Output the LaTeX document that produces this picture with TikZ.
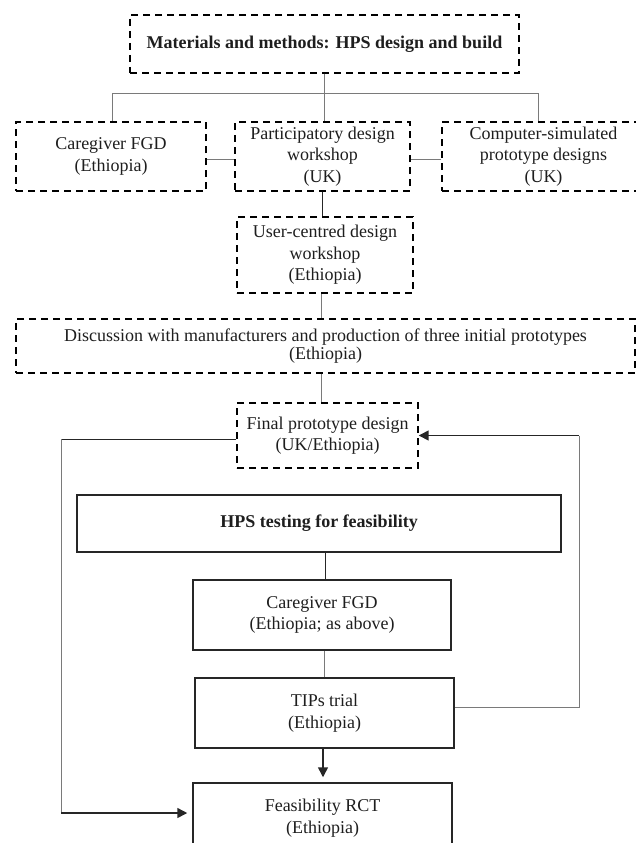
\documentclass[tikz,border=0pt]{standalone}
\usepackage{fontspec}
\setmainfont{Liberation Serif}
\usetikzlibrary{arrows.meta}
\definecolor{txt}{HTML}{1E1E1E}
\definecolor{gl}{HTML}{7A7A7A}
\definecolor{kl}{HTML}{262626}
\tikzset{
  dbox/.style={draw=black, line width=1.4pt, dash pattern=on 7pt off 5pt, rectangle, inner sep=0pt, align=center, text=txt, font=\fontsize{18}{21.5}\selectfont},
  sbox/.style={draw=kl, line width=1.5pt, rectangle, inner sep=0pt, align=center, text=txt, font=\fontsize{18}{21.5}\selectfont},
  gline/.style={draw=gl, line width=1pt},
  kline/.style={draw=kl, line width=1pt},
  karrow/.style={draw=kl, line width=1.5pt, -{Triangle[length=10pt,width=10pt]}},
}
\begin{document}
\begin{tikzpicture}[x=1pt,y=-1pt]
\useasboundingbox (0,0) rectangle (636,843);
% design and build nodes
\node[dbox, minimum width=389pt, minimum height=58pt] (top) at (324.5,44) {\textbf{Materials and methods: HPS design and build}};
\node[dbox, minimum width=190pt, minimum height=69pt] (cg1) at (111,156.5) {Caregiver FGD\\(Ethiopia)};
\node[dbox, minimum width=175pt, minimum height=69pt] (part) at (322.5,156.5) {Participatory design\\workshop\\(UK)};
\node[dbox, minimum width=203pt, minimum height=69pt] (comp) at (543.5,156.5) {Computer-simulated\\prototype designs\\(UK)};
\node[dbox, minimum width=176pt, minimum height=76pt] (user) at (325,255) {User-centred design\\workshop\\(Ethiopia)};
\node[dbox, minimum width=619pt, minimum height=54pt, font=\fontsize{18}{18.5}\selectfont] (disc) at (325.5,346) {Discussion with manufacturers and production of three initial prototypes\\(Ethiopia)};
\node[dbox, minimum width=181pt, minimum height=65pt] (final) at (327.5,435.5) {Final prototype design\\(UK/Ethiopia)};
% testing nodes
\node[sbox, minimum width=484pt, minimum height=57pt] (hps) at (319,523.5) {\textbf{HPS testing for feasibility}};
\node[sbox, minimum width=258pt, minimum height=70pt] (cg2) at (322,615) {Caregiver FGD\\(Ethiopia; as above)};
\node[sbox, minimum width=259pt, minimum height=70pt] (tips) at (324.5,713) {TIPs trial\\(Ethiopia)};
\node[sbox, minimum width=259pt, minimum height=70pt] (feas) at (322.5,818) {Feasibility RCT\\(Ethiopia)};
% helper coordinates
\coordinate (bus) at (324.5,93);
\coordinate (busL) at (112,93);
\coordinate (busR) at (538,93);
\coordinate (sy) at (0,159);
\coordinate (cx) at (321,0);
\coordinate (cx2) at (325,0);
\coordinate (cx3) at (324,0);
\coordinate (cx4) at (323,0);
\coordinate (ty) at (0,707);
\coordinate (fr) at (579,435.5);
\coordinate (fl) at (61,439);
\coordinate (fy) at (0,813);
% top connectors
\draw[gline] (top.south) -- (bus);
\draw[gline] (busL) -- (busR);
\draw[gline] (busL) -- (busL |- cg1.north);
\draw[gline] (bus) -- (bus |- part.north);
\draw[gline] (busR) -- (busR |- comp.north);
\draw[gline] (cg1.east |- sy) -- (part.west |- sy);
\draw[gline] (part.east |- sy) -- (comp.west |- sy);
\draw[kline] (part.south) -- (part.south |- user.north);
\draw[gline] (cx |- user.south) -- (cx |- disc.north);
\draw[gline] (cx |- disc.south) -- (cx |- final.north);
% testing connectors
\draw[kline] (cx2 |- hps.south) -- (cx2 |- cg2.north);
\draw[gline] (cx3 |- cg2.south) -- (cx3 |- tips.north);
\draw[karrow, shorten >=5pt] (cx4 |- tips.south) -- (cx4 |- feas.north);
% feedback loop right
\draw[gline] (tips.east |- ty) -| (fr);
\draw[karrow] (fr) -- (final.east);
% bypass left
\draw[kline] (final.west |- fl) -- (fl);
\draw[gline] (fl) -- (fl |- fy);
\draw[karrow, shorten >=5pt] (fl |- fy) -- (feas.west |- fy);
\end{tikzpicture}
\end{document}
